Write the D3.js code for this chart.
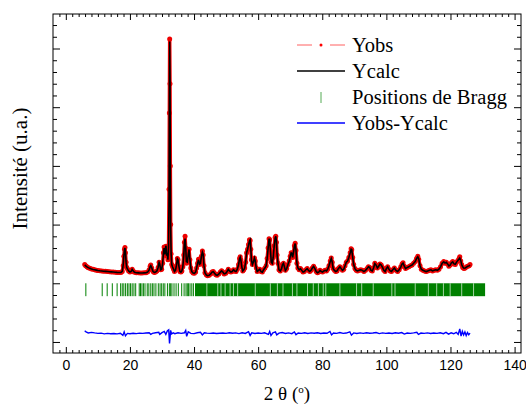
<!DOCTYPE html>
<html>
<head>
<meta charset="utf-8">
<script src="https://cdnjs.cloudflare.com/ajax/libs/d3/7.8.5/d3.min.js"></script>
<style>
    body { margin: 0; background: #fff; }
    .axis text { font-family: "Liberation Sans", Arial, sans-serif; font-size: 14px; fill: #000; }
</style>
</head>
<body>
<div id="vis"></div>
<script>
// 2 theta grid shared by Yobs and Ycalc
var twoTheta = [
    5.9, 6.2, 6.6, 7.0, 7.5, 8.0, 8.5, 9.0, 9.5, 10.0,
    10.6, 11.2, 11.8, 12.4, 13.0, 13.6, 14.2, 14.8, 15.4, 16.0,
    16.6, 17.2, 17.6, 17.9, 18.1, 18.3, 18.45, 18.6, 18.8, 19.0,
    19.3, 19.6, 20.0, 20.4, 20.7, 21.0, 21.4, 22.0, 22.6, 23.2,
    23.8, 24.4, 25.0, 25.5, 26.0, 26.3, 26.5, 26.8, 27.2, 27.6,
    28.0, 28.4, 28.8, 29.1, 29.3, 29.6, 29.9, 30.2, 30.45, 30.65,
    30.85, 31.05, 31.25, 31.45, 31.65, 31.85, 32.05, 32.2, 32.3, 32.4,
    32.5, 32.6, 32.7, 32.85, 33.05, 33.3, 33.6, 33.9, 34.2, 34.5,
    34.8, 35.0, 35.3, 35.6, 35.9, 36.2, 36.5, 36.8, 37.0, 37.2,
    37.4, 37.6, 37.9, 38.2, 38.45, 38.7, 39.0, 39.3, 39.7, 40.1,
    40.5, 40.8, 41.1, 41.4, 41.7, 42.0, 42.3, 42.6, 42.85, 43.1,
    43.4, 43.8, 44.2, 44.7, 45.2, 45.6, 46.0, 46.4, 46.8, 47.2,
    47.7, 48.2, 48.6, 49.0, 49.4, 49.9, 50.3, 50.7, 51.1, 51.5,
    51.9, 52.3, 52.7, 53.1, 53.5, 53.9, 54.2, 54.4, 54.6, 54.9,
    55.2, 55.5, 55.8, 56.1, 56.4, 56.7, 57.0, 57.3, 57.5, 57.7,
    57.9, 58.2, 58.5, 58.85, 59.1, 59.4, 59.7, 60.1, 60.5, 60.9,
    61.3, 61.7, 62.1, 62.5, 62.8, 63.1, 63.4, 63.6, 63.85, 64.1,
    64.4, 64.7, 65.0, 65.3, 65.5, 65.7, 65.9, 66.2, 66.5, 66.9,
    67.3, 67.6, 67.9, 68.2, 68.5, 68.9, 69.3, 69.7, 70.0, 70.3,
    70.5, 70.75, 71.0, 71.3, 71.55, 71.8, 72.1, 72.4, 72.8, 73.2,
    73.6, 74.0, 74.4, 74.9, 75.3, 75.7, 76.1, 76.5, 76.9, 77.3,
    77.7, 78.1, 78.5, 78.9, 79.3, 79.7, 80.1, 80.5, 80.9, 81.3,
    81.7, 82.1, 82.5, 82.8, 83.1, 83.4, 83.8, 84.2, 84.6, 85.0,
    85.5, 85.9, 86.3, 86.7, 87.1, 87.5, 87.9, 88.3, 88.7, 89.0,
    89.2, 89.5, 89.8, 90.2, 90.6, 91.0, 91.5, 92.0, 92.5, 93.0,
    93.5, 94.0, 94.4, 94.8, 95.2, 95.6, 96.0, 96.4, 96.8, 97.2,
    97.6, 98.0, 98.4, 98.8, 99.2, 99.6, 100.0, 100.4, 100.8, 101.2,
    101.6, 102.0, 102.5, 103.0, 103.5, 104.0, 104.5, 104.9, 105.2, 105.6,
    106.0, 106.5, 107.0, 107.5, 108.0, 108.5, 109.0, 109.4, 109.8, 110.1,
    110.5, 110.9, 111.4, 111.9, 112.4, 112.9, 113.4, 113.9, 114.4, 114.9,
    115.4, 115.9, 116.4, 116.9, 117.4, 117.9, 118.3, 118.7, 119.1, 119.5,
    119.9, 120.3, 120.7, 121.1, 121.5, 121.9, 122.3, 122.7, 122.9, 123.2,
    123.5, 123.8, 124.2, 124.6, 125.0, 125.4, 125.8, 126.1
];

var yObs = [
    1600, 1500, 1400, 1330, 1270, 1220, 1190, 1150, 1120, 1090,
    1070, 1050, 1030, 1020, 1000, 990, 970, 960, 940, 920,
    910, 920, 1000, 1500, 2300, 2900, 3050, 2600, 1800, 1350,
    1200, 1050, 960, 1000, 1200, 1050, 930, 900, 890, 880,
    880, 890, 900, 950, 1150, 1450, 1550, 1300, 1000, 920,
    950, 1050, 1350, 1800, 1700, 1150, 1200, 1700, 2600, 3100,
    2400, 2950, 3150, 2300, 2700, 2000, 3200, 8000, 14500, 20800,
    17000, 10000, 5000, 2500, 1600, 1400, 1200, 1000, 1100, 1500,
    2100, 2000, 1400, 1000, 950, 1050, 1400, 2400, 3500, 4000,
    3000, 1700, 1800, 2500, 2900, 2000, 1300, 1000, 880, 850,
    950, 1300, 1700, 2050, 1600, 1700, 2300, 2750, 2400, 1500,
    900, 720, 650, 680, 800, 950, 1000, 850, 720, 680,
    780, 950, 1070, 950, 800, 850, 1000, 1190, 1050, 950,
    1000, 1150, 1050, 1000, 1200, 1600, 2100, 2260, 2000, 1400,
    1050, 1150, 1300, 1800, 2600, 2900, 3300, 3700, 3650, 2900,
    2000, 1600, 1800, 2150, 1900, 1300, 1000, 1100, 1200, 1000,
    950, 1150, 1300, 1500, 2100, 3000, 3800, 3700, 2600, 1800,
    1700, 2200, 3200, 3900, 4000, 3500, 2400, 1700, 1150, 1050,
    1250, 1600, 1700, 1400, 1100, 1250, 1600, 1900, 2300, 2600,
    2550, 2200, 2600, 3200, 3400, 2800, 1700, 1300, 1150, 1250,
    1100, 950, 1000, 1150, 1250, 1100, 1000, 1100, 1300, 1450,
    1250, 1000, 900, 950, 1100, 1000, 950, 1050, 1100, 1050,
    1200, 1500, 1900, 2150, 1800, 1250, 1100, 1000, 1050, 1250,
    1400, 1250, 1100, 1200, 1500, 1800, 1900, 2200, 2600, 2950,
    2850, 2200, 1600, 1250, 1100, 1050, 1100, 1150, 1100, 1000,
    1100, 1250, 1400, 1350, 1100, 1050, 1300, 1700, 1550, 1300,
    1450, 1650, 1550, 1350, 1100, 1000, 1250, 1400, 1200, 1050,
    1000, 1150, 1300, 1100, 1000, 1150, 1400, 1650, 1750, 1450,
    1250, 1350, 1400, 1500, 1550, 1700, 1850, 2100, 2300, 2050,
    1500, 1200, 1100, 1050, 1000, 1050, 1100, 1150, 1050, 1100,
    1150, 1100, 1200, 1400, 1700, 1850, 1700, 1800, 1650, 1450,
    1550, 1750, 1850, 1650, 1600, 1800, 1950, 2100, 2260, 1900,
    1600, 1350, 1250, 1300, 1400, 1450, 1500, 1600
];

var yCalc = [
    1560, 1490, 1400, 1330, 1270, 1220, 1180, 1150, 1120, 1090,
    1065, 1050, 1030, 1015, 1000, 985, 970, 955, 940, 925,
    915, 925, 1020, 1560, 2300, 2850, 3000, 2650, 1800, 1350,
    1180, 1050, 960, 1010, 1180, 1060, 930, 900, 890, 880,
    880, 890, 900, 950, 1130, 1420, 1500, 1320, 1000, 920,
    950, 1050, 1350, 1780, 1650, 1150, 1200, 1680, 2550, 3000,
    2450, 2900, 3200, 2350, 2600, 2000, 3100, 7500, 14500, 20600,
    17600, 10500, 4900, 2500, 1600, 1380, 1200, 1000, 1100, 1500,
    2080, 2000, 1420, 1000, 950, 1050, 1400, 2400, 3450, 3800,
    3100, 1850, 1800, 2450, 2880, 2050, 1300, 1000, 880, 850,
    950, 1300, 1700, 2000, 1620, 1700, 2300, 2650, 2450, 1500,
    900, 720, 650, 680, 800, 950, 990, 850, 720, 680,
    780, 950, 1060, 950, 800, 850, 1000, 1180, 1050, 950,
    1000, 1150, 1050, 1000, 1200, 1600, 2100, 2220, 2000, 1400,
    1050, 1150, 1300, 1800, 2600, 2900, 3250, 3600, 3700, 3000,
    2000, 1600, 1800, 2150, 1900, 1300, 1000, 1100, 1200, 1000,
    950, 1150, 1300, 1500, 2100, 2950, 3750, 3750, 2700, 1800,
    1700, 2200, 3150, 3850, 4000, 3550, 2450, 1700, 1150, 1050,
    1250, 1600, 1700, 1400, 1100, 1250, 1600, 1900, 2300, 2580,
    2550, 2200, 2600, 3150, 3380, 2800, 1700, 1300, 1150, 1250,
    1100, 950, 1000, 1150, 1250, 1100, 1000, 1100, 1300, 1430,
    1250, 1000, 900, 950, 1100, 1000, 950, 1050, 1100, 1050,
    1200, 1500, 1880, 2100, 1820, 1250, 1100, 1000, 1050, 1250,
    1400, 1250, 1100, 1200, 1500, 1800, 1900, 2200, 2580, 2900,
    2870, 2200, 1600, 1250, 1100, 1050, 1100, 1150, 1100, 1000,
    1100, 1250, 1400, 1350, 1100, 1050, 1300, 1680, 1550, 1300,
    1450, 1650, 1550, 1350, 1100, 1000, 1250, 1400, 1200, 1050,
    1000, 1150, 1300, 1100, 1000, 1150, 1400, 1650, 1720, 1450,
    1250, 1350, 1400, 1500, 1550, 1700, 1850, 2100, 2250, 2080,
    1500, 1200, 1100, 1050, 1000, 1050, 1100, 1150, 1050, 1100,
    1150, 1100, 1200, 1400, 1700, 1830, 1720, 1780, 1650, 1480,
    1550, 1750, 1830, 1650, 1620, 1800, 1950, 2080, 2150, 1950,
    1600, 1400, 1280, 1300, 1380, 1450, 1480, 1560
];

// difference curve, drawn with an offset below the Bragg ticks
var diffTheta = [
    5.9, 6.3, 7, 8, 9, 10, 11, 12, 13, 14,
    15, 16, 17, 17.8, 18.2, 18.6, 19.2, 20, 21, 22,
    23, 24, 25, 26, 26.5, 27, 28, 29, 29.3, 30,
    30.7, 31.2, 31.7, 32.1, 32.35, 32.5, 32.7, 33.0, 33.5, 34,
    35, 36, 37.0, 37.4, 37.7, 38.2, 39, 40, 41, 42,
    42.6, 43.2, 44, 45, 46, 47, 48, 49, 50, 51,
    52, 53, 54, 55, 56, 57, 57.5, 58, 59, 60,
    61, 62, 63.2, 63.6, 64, 64.6, 65.4, 65.8, 66.5, 67.5,
    68.5, 69.5, 70.5, 71.3, 71.8, 72.5, 73.5, 74.5, 75.5, 76.5,
    77.5, 78.5, 79.5, 80.5, 81.5, 82.4, 82.9, 83.5, 84.5, 85.5,
    86.5, 87.5, 88.6, 89.1, 89.8, 90.8, 91.8, 92.8, 93.8, 94.8,
    95.8, 96.8, 97.8, 98.8, 99.8, 100.8, 101.8, 102.8, 103.8, 104.8,
    105.6, 106.5, 107.5, 108.5, 109.5, 110.0, 110.8, 111.8, 112.8, 113.8,
    114.8, 115.8, 116.8, 117.8, 118.6, 119.4, 120.2, 121.0, 121.8, 122.4,
    122.9, 123.3, 123.7, 124.1, 124.5, 124.9, 125.3, 125.7, 126.1
];

var yDiff = [
    -4050, -4150, -4230, -4180, -4230, -4270, -4250, -4310, -4270, -4300,
    -4280, -4310, -4260, -4440, -4140, -4480, -4270, -4300, -4260, -4290,
    -4250, -4270, -4240, -4210, -4350, -4270, -4220, -4180, -4350, -4200,
    -4100, -4350, -4050, -3970, -5120, -4650, -4010, -4310, -4220, -4290,
    -4220, -4270, -4220, -4010, -4520, -4140, -4270, -4290, -4220, -4180,
    -4400, -4220, -4250, -4270, -4240, -4280, -4260, -4240, -4270, -4220,
    -4260, -4230, -4290, -4220, -4270, -4120, -4440, -4220, -4280, -4240,
    -4270, -4220, -4350, -4100, -4440, -4220, -4140, -4400, -4250, -4200,
    -4280, -4230, -4290, -4150, -4380, -4240, -4270, -4220, -4280, -4230,
    -4260, -4220, -4280, -4240, -4260, -4110, -4400, -4240, -4270, -4200,
    -4270, -4240, -4130, -4420, -4230, -4280, -4230, -4270, -4220, -4260,
    -4240, -4200, -4290, -4230, -4270, -4240, -4280, -4220, -4260, -4200,
    -4330, -4240, -4270, -4230, -4180, -4350, -4240, -4270, -4230, -4280,
    -4240, -4270, -4220, -4290, -4180, -4330, -4220, -4300, -4180, -4350,
    -3890, -4500, -4100, -4400, -4150, -4450, -4200, -4380, -4250
];

// Bragg reflections: single ticks, then a solid run with a few gaps
var braggPeaks = [
    6.25, 11.35, 12.9, 14.5, 16.0, 17.1, 17.6, 18.1, 18.65, 19.2,
    19.7, 20.2, 20.7, 21.25, 21.8, 22.9, 23.3, 23.75, 24.2, 24.7,
    25.4, 25.9, 26.5, 27.0, 27.5, 28.1, 28.85, 29.4, 29.9, 30.4,
    30.9, 31.7, 32.3, 32.7, 33.1, 33.75, 34.4, 35.1, 36.15, 36.9,
    37.5, 37.9, 38.3, 38.75, 39.3, 39.8
];
var braggBand = [40.3, 130.8];
var braggGaps = [
    44.0, 47.4, 48.4, 49.7, 51.25, 52.3, 53.6, 59.1, 63.8, 66.0,
    67.75, 70.7, 72.1, 75.4, 77.2, 78.8, 80.3, 81.1, 85.5, 90.7,
    92.3, 95.9, 101.7, 102.7, 109.0, 113.1, 115.7, 117.8, 119.9, 123.5,
    127.2
];
var braggTop = 0, braggBottom = -1100;

var xTicks = [0, 20, 40, 60, 80, 100, 120, 140];
var yTicks = [-5000, 0, 5000, 10000, 15000, 20000];
var legendLabels = ["Yobs", "Ycalc", "Positions de Bragg", "Yobs-Ycalc"];

var serif = "'Liberation Serif', 'DejaVu Serif', 'Noto Serif', Tinos, 'Times New Roman', Times, 'Nimbus Roman', FreeSerif, serif";

var margin = {
        top: 14,
        right: 5,
        bottom: 54,
        left: 53
    },
    width = 526,
    drawWidth = width - margin.left - margin.right,
    height = 407,
    drawHeight = height - margin.top - margin.bottom;

var x = d3.scaleLinear()
    .domain([-4, 142])
    .range([0, drawWidth]);

var y = d3.scaleLinear()
    .domain([-5940, 22940])
    .range([drawHeight, 0]);

var svg = d3.select("#vis").append("svg")
    .attr("width", width)
    .attr("height", height);

var g = svg.append("g")
    .attr("transform", "translate(" + margin.left + "," + margin.top + ")");

var xMinor = d3.range(-2, 142, 2).filter(function(d) { return d % 20 !== 0; });
var yMinor = d3.range(-5000, 23000, 1000).filter(function(d) { return d % 5000 !== 0; });

function tickAxis(axisFn, scale, values, size, labels) {
    var a = axisFn(scale).tickValues(values).tickSizeInner(-size).tickSizeOuter(0);
    if (!labels) a.tickFormat("");
    return a;
}

// ticks on all four sides, pointing inward
var axes = [
    [d3.axisBottom, x, "translate(0," + drawHeight + ")", 6, 3, xTicks, xMinor, true],
    [d3.axisTop, x, null, 6, 3, xTicks, xMinor, false],
    [d3.axisLeft, y, null, 7, 4, yTicks, yMinor, false],
    [d3.axisRight, y, "translate(" + drawWidth + ",0)", 7, 4, yTicks, yMinor, false]
];
axes.forEach(function(a) {
    var major = g.append("g").attr("class", "axis").call(tickAxis(a[0], a[1], a[5], a[3], a[7]).tickPadding(7));
    var minor = g.append("g").attr("class", "axis").call(tickAxis(a[0], a[1], a[6], a[4], false));
    if (a[2]) {
        major.attr("transform", a[2]);
        minor.attr("transform", a[2]);
    }
    major.select(".domain").remove();
    minor.select(".domain").remove();
});
g.selectAll(".axis line").attr("stroke", "#000");

g.append("rect")
    .attr("width", drawWidth)
    .attr("height", drawHeight)
    .attr("fill", "none")
    .attr("stroke", "#000")
    .attr("stroke-width", 1);

var obsData = twoTheta.map(function(t, i) { return {t: t, v: yObs[i]}; });
var calcData = twoTheta.map(function(t, i) { return {t: t, v: yCalc[i]}; });
var diffData = diffTheta.map(function(t, i) { return {t: t, v: yDiff[i]}; });

var line = d3.line()
    .x(function(d) { return x(d.t); })
    .y(function(d) { return y(d.v); });

// Yobs: red line + dots
g.append("path")
    .datum(obsData)
    .attr("fill", "none")
    .attr("stroke", "#ff0000")
    .attr("stroke-width", 3.5)
    .attr("stroke-linejoin", "round")
    .attr("d", line);

g.append("g").selectAll("circle")
    .data(obsData)
    .enter().append("circle")
    .attr("cx", function(d) { return x(d.t); })
    .attr("cy", function(d) { return y(d.v); })
    .attr("r", 2.5)
    .attr("fill", "#ee0000");

g.append("path")
    .datum(calcData)
    .attr("fill", "none")
    .attr("stroke", "#000")
    .attr("stroke-width", 1.6)
    .attr("d", line);

// Bragg positions
var bragg = g.append("g");
bragg.selectAll("line")
    .data(braggPeaks)
    .enter().append("line")
    .attr("x1", function(d) { return x(d); })
    .attr("x2", function(d) { return x(d); })
    .attr("y1", y(braggTop))
    .attr("y2", y(braggBottom))
    .attr("stroke", "#008000")
    .attr("stroke-width", 1);
bragg.append("rect")
    .attr("x", x(braggBand[0]))
    .attr("width", x(braggBand[1]) - x(braggBand[0]))
    .attr("y", y(braggTop))
    .attr("height", y(braggBottom) - y(braggTop))
    .attr("fill", "#008000");
bragg.selectAll(".gap")
    .data(braggGaps)
    .enter().append("line")
    .attr("class", "gap")
    .attr("x1", function(d) { return x(d); })
    .attr("x2", function(d) { return x(d); })
    .attr("y1", y(braggTop))
    .attr("y2", y(braggBottom))
    .attr("stroke", "#fff")
    .attr("stroke-opacity", 0.8)
    .attr("stroke-width", 0.8);

g.append("path")
    .datum(diffData)
    .attr("fill", "none")
    .attr("stroke", "#0000ff")
    .attr("stroke-width", 1.4)
    .attr("d", line);

// legend
var legend = svg.append("g").attr("transform", "translate(297,45)");
var rowH = 26;
legendLabels.forEach(function(label, i) {
    var row = legend.append("g").attr("transform", "translate(0," + (i * rowH) + ")");
    if (i === 0) {
        row.append("line").attr("x1", 0).attr("x2", 15).attr("stroke", "#ff6060");
        row.append("line").attr("x1", 33).attr("x2", 48).attr("stroke", "#ff6060");
        row.append("circle").attr("cx", 24).attr("r", 1.5).attr("fill", "#ff0000");
    } else if (i === 2) {
        row.append("line").attr("x1", 24).attr("x2", 24).attr("y1", -5).attr("y2", 6)
            .attr("stroke", "#55aa55").attr("stroke-width", 1);
    } else {
        row.append("line").attr("x1", 0).attr("x2", 48)
            .attr("stroke", i === 1 ? "#000" : "#0000ff").attr("stroke-width", 1.3);
    }
    row.append("text")
        .attr("x", 55)
        .attr("y", 7)
        .style("font-family", serif)
        .style("font-size", "20.5px")
        .text(label);
});

// axis titles
var xTitle = svg.append("text")
    .attr("x", margin.left + drawWidth / 2)
    .attr("y", 400)
    .attr("text-anchor", "middle")
    .style("font-family", serif)
    .style("font-size", "19px");
xTitle.append("tspan").text("2 \u03b8 (");
xTitle.append("tspan").style("font-size", "11px").attr("dy", -7).text("o");
xTitle.append("tspan").attr("dy", 7).text(")");

svg.append("text")
    .attr("transform", "translate(27,168.5) rotate(-90)")
    .attr("text-anchor", "middle")
    .style("font-family", serif)
    .style("font-size", "21px")
    .text("Intensit\u00e9 (u.a.)");
</script>
</body>
</html>
